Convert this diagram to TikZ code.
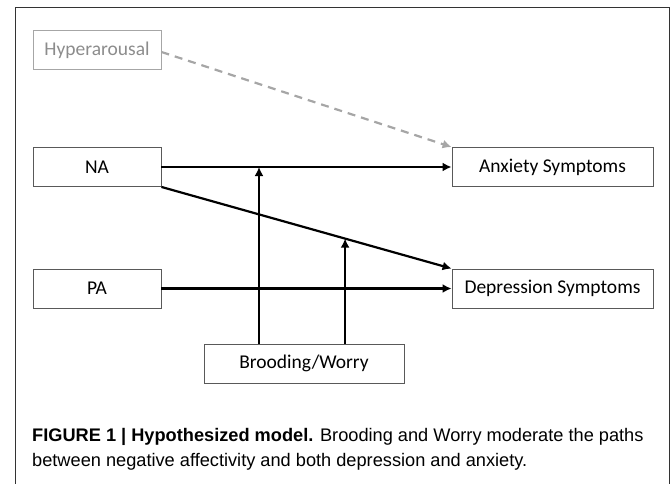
\documentclass[tikz,border=0pt]{standalone}
\usepackage{fontspec}
\setmainfont{Carlito}
\newfontfamily\capfont{Liberation Sans}
\usepackage{tikz}
\usetikzlibrary{arrows.meta,calc}
\definecolor{boxgray}{HTML}{595959}
\definecolor{hypgray}{HTML}{A6A6A6}
\definecolor{hyptext}{HTML}{8C8C8C}
\tikzset{
	varbox/.style = {rectangle, draw=boxgray, line width=0.9pt, inner sep=0pt,
		align=center, font=\fontsize{19.5}{22}\selectfont},
	leftbox/.style = {varbox, minimum width=128pt, minimum height=39pt},
	rightbox/.style = {varbox, minimum width=201pt, minimum height=39pt},
	hypbox/.style = {leftbox, draw=hypgray, text=hyptext},
	path/.style = {->, line width=2.2pt},
	hyppath/.style = {->, line width=2.2pt, draw=hypgray, dashed,
		dash pattern=on 8pt off 6pt},
	caption/.style = {anchor=west, inner sep=0pt, align=left,
		font=\capfont\fontsize{18.2}{25}\selectfont}
}

\begin{document}
\begin{tikzpicture}[x=1pt,y=-1pt,>={Latex[length=9pt,width=9pt]}]
\useasboundingbox (0,0) rectangle (672,484);
% frame
\draw[line width=0.9pt, black!80] (15,484) -- (15,7.5) -- (669,7.5) -- (669,484);

% variables
\node [hypbox] (hyp) at (97,50) {Hyperarousal};
\node [leftbox] (na) at (97,167) {NA};
\node [leftbox] (pa) at (97,288.5) {PA};
\node [rightbox] (anx) at (552.5,167) {Anxiety Symptoms};
\node [rightbox] (dep) at (552.5,288.5) {Depression Symptoms};
\node [varbox, minimum width=200pt, minimum height=39pt] (brood) at (304,363.5) {Brooding/Worry};

% paths
\draw [hyppath] (hyp.east) ++(0,2) -- (anx.north west);
\draw [path] (na.east) -- (anx.west);
\draw [path] (na.south east) -- (dep.north west);
\draw [path] (pa.east) -- (dep.west);

% moderation
\coordinate (m1) at (259,0);
\coordinate (m2) at ($(na.south east)!0.633!(dep.north west)$);
\draw [path] (m1 |- brood.north) -- (m1 |- na.east);
\draw [path] (m2 |- brood.north) -- (m2);

% caption
\node [caption] (cap) at (32,449.5) {\textbf{FIGURE 1 | Hypothesized model.} Brooding and Worry moderate the paths\\
between negative affectivity and both depression and anxiety.};
\end{tikzpicture}
\end{document}
